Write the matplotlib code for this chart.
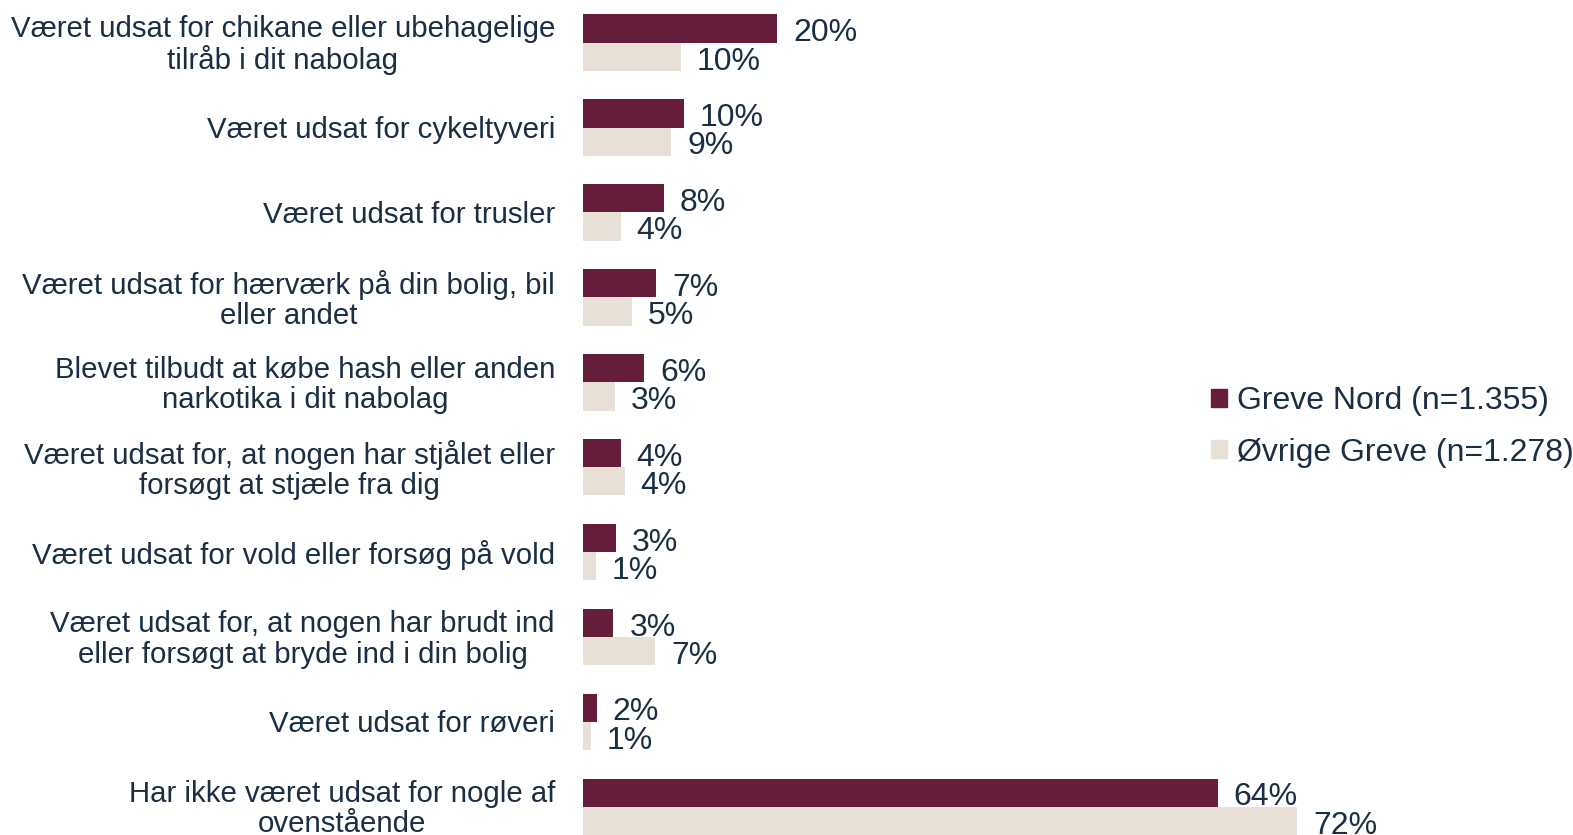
import matplotlib
matplotlib.use("Agg")
import matplotlib.pyplot as plt
from matplotlib.patches import Patch

plt.rcParams['font.family'] = ['Liberation Sans', 'DejaVu Sans']

categories = [
    "Været udsat for chikane eller ubehagelige\ntilråb i dit nabolag",
    "Været udsat for cykeltyveri",
    "Været udsat for trusler",
    "Været udsat for hærværk på din bolig, bil\neller andet",
    "Blevet tilbudt at købe hash eller anden\nnarkotika i dit nabolag",
    "Været udsat for, at nogen har stjålet eller\nforsøgt at stjæle fra dig",
    "Været udsat for vold eller forsøg på vold",
    "Været udsat for, at nogen har brudt ind\neller forsøgt at bryde ind i din bolig",
    "Været udsat for røveri",
    "Har ikke været udsat for nogle af\novenstående",
]
# bar lengths as measured, and the printed (rounded) labels
greve_nord = [19.6, 10.16, 8.14, 7.36, 6.15, 3.8, 3.33, 3.06, 1.38, 64.0]
ovrige_greve = [9.85, 8.88, 3.8, 4.94, 3.2, 4.2, 1.28, 7.26, 0.78, 72.0]
greve_nord_lbl = [20, 10, 8, 7, 6, 4, 3, 3, 2, 64]
ovrige_greve_lbl = [10, 9, 4, 5, 3, 4, 1, 7, 1, 72]
series_names = ["Greve Nord (n=1.355)", "Øvrige Greve (n=1.278)"]

dark = "#641E3B"
light = "#E8E0D6"
txt = "#1A2E44"

W, H = 1573, 835
fig = plt.figure(figsize=(W / 100, H / 100), dpi=100)
left = 583
ax = fig.add_axes([left / W, 0, 1 - left / W, 1])

pitch = 84.9
bh = 28.3 / pitch
y = list(range(len(categories)))
ax.barh([i - bh / 2 for i in y], greve_nord, height=bh, color=dark)
ax.barh([i + bh / 2 for i in y], ovrige_greve, height=bh, color=light)

px_per_pct = 9.915
ax.set_xlim(0, (W - left) / px_per_pct)
top = -42.7 / pitch
ax.set_ylim(top + H / pitch, top)

off = 16 / px_per_pct
fs_cat = 21.2
fs_val = 23
dy = 0.055
for i in y:
    ax.text(greve_nord[i] + off, i - bh / 2 + dy, f"{greve_nord_lbl[i]}%", va='center', ha='left',
            fontsize=fs_val, color=txt)
    ax.text(ovrige_greve[i] + off, i + bh / 2 + dy, f"{ovrige_greve_lbl[i]}%", va='center', ha='left',
            fontsize=fs_val, color=txt)
    ax.text(-28 / px_per_pct, i + 0.03, categories[i], va='center', ha='right', multialignment='center',
            fontsize=fs_cat, color=txt, linespacing=1.1)

ax.axis('off')

handles = [Patch(color=dark), Patch(color=light)]
fig.legend(handles, series_names, loc='center left', bbox_to_anchor=(1211 / W, 1 - 427 / H),
           frameon=False, fontsize=fs_val, labelcolor=txt, handlelength=0.5, handleheight=0.5,
           handletextpad=0.3, labelspacing=0.66, borderpad=0, borderaxespad=0)

fig.savefig("out.png", dpi=100)
